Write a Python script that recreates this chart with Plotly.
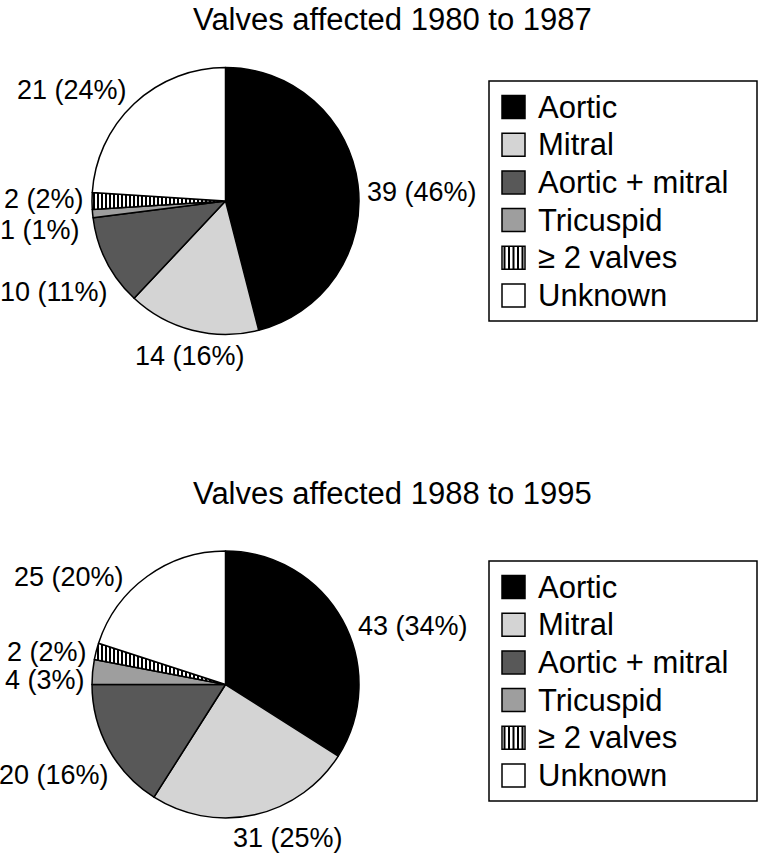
import plotly.graph_objects as go

# data
labels = ["Aortic", "Mitral", "Aortic + mitral", "Tricuspid", "\u2265 2 valves", "Unknown"]
counts_1980 = [39, 14, 10, 1, 2, 21]
pct_1980 = [46, 16, 11, 1, 2, 24]
counts_1988 = [43, 31, 20, 4, 2, 25]
pct_1988 = [34, 25, 16, 3, 2, 20]
titles = ["Valves affected 1980 to 1987", "Valves affected 1988 to 1995"]

colors = ["#000000", "#d4d4d4", "#585858", "#9e9e9e", "#ffffff", "#ffffff"]
patterns = ["", "", "", "", "|", ""]

W, H = 760, 853
FONT = "Liberation Sans, Arial, Helvetica, sans-serif"


def px(x):
    return x / W


def py(y):
    return 1 - y / H


fig = go.Figure()

# pie boxes in pixels: left, right, top, bottom
boxes = [(92, 359, 67, 335), (92, 359, 551, 818)]
# where the slice labels sit (pixel centres), as in the original layout
label_pos = [
    [(422, 192), (190, 356), (54, 292), (40, 230), (44, 199), (72, 90)],
    [(413, 626), (288, 838), (54, 775), (45, 680), (47, 652), (69, 577)],
]

annotations = []
for k, ((l, r, t, b), counts, pct) in enumerate(zip(boxes, [counts_1980, counts_1988], [pct_1980, pct_1988])):
    fig.add_trace(go.Pie(
        labels=labels, values=pct,
        textinfo="none", automargin=False,
        sort=False, direction="clockwise", rotation=0,
        marker=dict(colors=colors, line=dict(color="black", width=1.5),
                    pattern=dict(shape=patterns, fgcolor="black", size=4, solidity=0.5)),
        domain=dict(x=[px(l), px(r)], y=[py(b), py(t)]),
        showlegend=False, hoverinfo="label+value",
    ))
    for (lx, ly), c, p in zip(label_pos[k], counts, pct):
        annotations.append(dict(text=f"{c} ({p}%)", x=px(lx), y=py(ly), xref="paper", yref="paper",
                                xanchor="center", yanchor="middle", showarrow=False,
                                font=dict(size=27, color="black", family=FONT)))

shapes = []
title_y = [19, 493]
legend_top = [81, 561]
for k in range(2):
    annotations.append(dict(text=titles[k], x=px(392), y=py(title_y[k]), xref="paper", yref="paper",
                            xanchor="center", yanchor="middle", showarrow=False,
                            font=dict(size=31, color="black", family=FONT)))
    top = legend_top[k]
    shapes.append(dict(type="rect", xref="paper", yref="paper", x0=px(489), x1=px(757),
                       y0=py(top), y1=py(top + 240), line=dict(color="black", width=1.5),
                       fillcolor="white", layer="below"))
    for i, lab in enumerate(labels):
        cy = top + 26 + i * 37.7
        shapes.append(dict(type="rect", xref="paper", yref="paper", x0=px(502), x1=px(525),
                           y0=py(cy - 11.5), y1=py(cy + 11.5),
                           line=dict(color="black", width=1.5), fillcolor=colors[i]))
        if patterns[i]:
            for j in range(5):
                xx = 504.5 + j * 4.5
                shapes.append(dict(type="line", xref="paper", yref="paper", x0=px(xx), x1=px(xx),
                                   y0=py(cy - 11.5), y1=py(cy + 11.5),
                                   line=dict(color="black", width=2)))
        annotations.append(dict(text=lab, x=px(536), y=py(cy), xref="paper", yref="paper",
                                xanchor="left", yanchor="middle", showarrow=False,
                                font=dict(size=31, color="black", family=FONT)))

fig.update_layout(
    width=W, height=H,
    margin=dict(l=0, r=0, t=0, b=0, autoexpand=False),
    paper_bgcolor="white", plot_bgcolor="white",
    font=dict(family=FONT, color="black"),
    shapes=shapes, annotations=annotations,
)

# drop the default page margin so the figure sits at the window's corner
fig.write_html("out.html", config={"displayModeBar": False},
               post_script="document.body.style.margin='0px';")
